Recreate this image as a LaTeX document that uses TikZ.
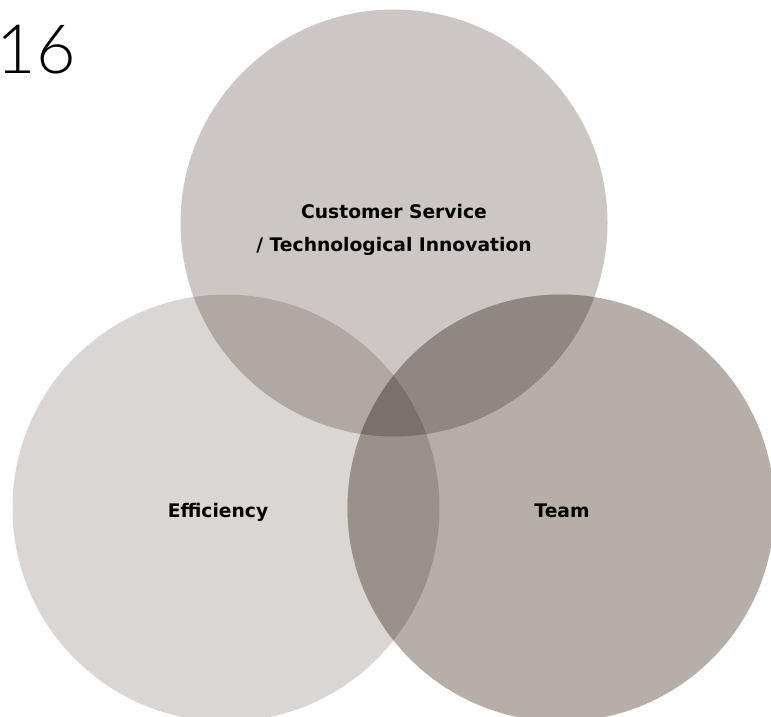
\documentclass[tikz,border=0pt]{standalone}
\usepackage{fontspec}
\newfontfamily\labelfont{DejaVu Sans}
\newfontfamily\yearfont{Lato Light}

\definecolor{servicegray}{RGB}{204,199,196}
\definecolor{efficiencygray}{RGB}{217,214,211}
\definecolor{teamgray}{RGB}{181,174,169}
\definecolor{serviceeff}{RGB}{176,168,163}
\definecolor{serviceteam}{RGB}{143,135,130}
\definecolor{effteam}{RGB}{154,145,139}
\definecolor{allthree}{RGB}{122,113,108}

\tikzset{
  disc/.style={circle, minimum size=427pt, inner sep=0pt},
  tag/.style={font=\labelfont\bfseries\fontsize{18.7}{33}\selectfont, align=center, text=black},
}

\begin{document}
\begin{tikzpicture}[x=1pt,y=-1pt]
    \useasboundingbox (0,0) rectangle (771,717);

    % Circles
    \node[disc, fill=servicegray] (service) at (394,223) {};
    \node[disc, fill=efficiencygray] (efficiency) at (226,508) {};
    \node[disc, fill=teamgray] (team) at (561,508) {};

    % Overlaps
    \begin{scope}
        \clip (service.center) circle (213.5pt);
        \fill[serviceeff] (efficiency.center) circle (213.5pt);
        \fill[serviceteam] (team.center) circle (213.5pt);
    \end{scope}
    \begin{scope}
        \clip (efficiency.center) circle (213.5pt);
        \fill[effteam] (team.center) circle (213.5pt);
        \clip (team.center) circle (213.5pt);
        \fill[allthree] (service.center) circle (213.5pt);
    \end{scope}

    % Labels
    \node[tag, anchor=base] (servicetext) at (394,251) {Customer Service\\/ Technological Innovation};
    \node[tag, anchor=base] (efficiencytext) at (218,517) {Efficiency};
    \node[tag, anchor=base] (teamtext) at (562,517) {Team};

    % Year
    \node[font=\yearfont\fontsize{68}{68}\selectfont, anchor=base east, inner sep=0pt] (year) at (76,74) {16};
\end{tikzpicture}
\end{document}
